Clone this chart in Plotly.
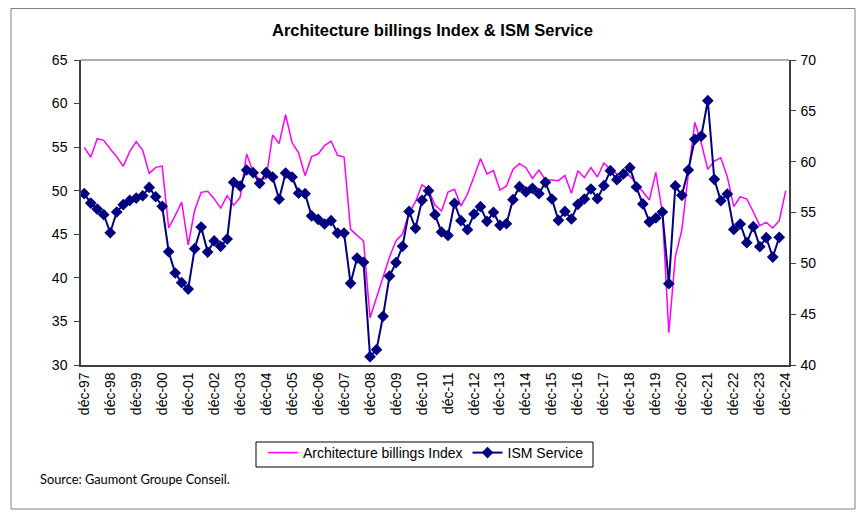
import plotly.graph_objects as go

years = list(range(1997, 2025))
months = ["mars", "juin", "sept", "déc"]
categories = ["déc-97"] + [f"{m}-{str(y)[2:]}" for y in years[1:] for m in months]
tick_labels = [c for c in categories if c.startswith("déc")]

abi = [54.98, 53.83, 55.97, 55.78, 54.79, 53.91, 52.80, 54.48, 55.63, 54.63,
       51.99, 52.68, 52.83, 45.72, 47.14, 48.70, 43.77, 47.75, 49.81, 49.93,
       49.09, 48.01, 49.43, 48.32, 49.24, 54.21, 52.15, 51.23, 51.42, 56.39,
       55.40, 58.72, 55.51, 54.35, 51.73, 53.91, 54.21, 55.17, 55.70, 54.06,
       53.87, 45.57, 44.88, 44.23, 35.43, 37.84, 40.25, 42.39, 44.27, 45.03,
       47.40, 48.74, 50.69, 50.08, 48.36, 47.67, 49.85, 50.16, 48.24, 49.62,
       51.61, 53.68, 51.92, 52.30, 50.08, 50.54, 52.45, 53.10, 52.64, 51.42,
       52.38, 51.23, 51.23, 51.15, 51.76, 49.70, 52.30, 51.50, 52.64, 51.57,
       53.18, 52.45, 51.92, 51.92, 51.69, 50.85, 49.89, 48.93, 52.11, 47.56,
       33.71, 42.43, 45.49, 51.90, 57.85, 55.44, 52.45, 53.41, 53.79, 51.61,
       48.17, 49.31, 49.05, 47.59, 45.99, 46.37, 45.72, 46.56, 50.00]

ism = [56.85, 55.93, 55.34, 54.79, 53.01, 55.05, 55.77, 56.19, 56.42, 56.65,
       57.47, 56.55, 55.61, 51.14, 49.05, 48.10, 47.47, 51.44, 53.57, 51.11,
       52.20, 51.67, 52.39, 57.97, 57.60, 59.18, 58.92, 57.87, 58.92, 58.49,
       56.31, 58.88, 58.49, 56.90, 56.85, 54.66, 54.33, 53.87, 54.20, 52.98,
       52.98, 48.03, 50.52, 50.10, 40.82, 41.51, 44.79, 48.75, 50.07, 51.67,
       55.11, 53.44, 56.20, 57.15, 54.79, 53.08, 52.75, 55.90, 54.20, 53.31,
       54.85, 55.57, 54.13, 55.02, 53.74, 53.90, 56.26, 57.54, 57.02, 57.38,
       56.85, 57.97, 56.33, 54.23, 55.11, 54.36, 55.80, 56.33, 57.31, 56.36,
       57.64, 59.11, 58.23, 58.79, 59.41, 57.51, 55.84, 54.07, 54.46, 55.05,
       48.00, 57.61, 56.69, 59.18, 62.20, 62.52, 66.00, 58.26, 56.16, 56.82,
       53.34, 53.87, 52.03, 53.61, 51.64, 52.52, 50.62, 52.56]

FONT = "Liberation Sans, Arial, sans-serif"

fig = go.Figure()
fig.add_trace(go.Scatter(
    x=categories, y=abi, name="Architecture billings Index", mode="lines",
    line=dict(color="#FF00FF", width=1.5), yaxis="y"))
fig.add_trace(go.Scatter(
    x=categories[:len(ism)], y=ism, name="ISM Service", mode="lines+markers",
    line=dict(color="#000080", width=2),
    marker=dict(symbol="diamond", size=9, color="#000080"), yaxis="y2"))

# page body has an 8px margin; figure is sized so the plot lands where intended
OFF = 8
W, H = 856, 507
PL, PR, PT, PB = 81, 789, 60, 365          # plot area in page pixels
L, T = PL - OFF, PT - OFF
R, B = W - (PR - OFF), H - (PB - OFF)
pw, ph = PR - PL, PB - PT

def px(xp):
    return (xp - PL) / pw

def py(yp):
    return (PB - yp) / ph

fig.update_layout(
    width=W, height=H, autosize=False,
    margin=dict(l=L, r=R, t=T, b=B, pad=0),
    paper_bgcolor="white", plot_bgcolor="white",
    font=dict(family=FONT, size=14, color="black"),
    title=dict(text="<b>Architecture billings Index & ISM Service</b>",
               x=(432.5 - OFF) / W, xref="container", xanchor="center",
               y=1 - (30 - OFF) / H, yref="container", yanchor="middle",
               font=dict(family=FONT, size=16.5, color="black")),
    xaxis=dict(type="category", categoryorder="array", categoryarray=categories,
               range=[-0.5, len(categories) - 0.5],
               tickmode="array", tickvals=tick_labels, ticktext=tick_labels,
               tickangle=-90, ticks="", showgrid=False, zeroline=False,
               showline=True, linecolor="#404040", linewidth=1.5,
               tickfont=dict(family=FONT, size=14)),
    yaxis=dict(range=[30, 65], dtick=5, tick0=30, ticks="outside", ticklen=5,
               tickcolor="#404040", showgrid=False, zeroline=False,
               showline=True, linecolor="#404040", linewidth=1.5,
               ticklabelstandoff=4,
               tickfont=dict(family=FONT, size=14)),
    yaxis2=dict(range=[40, 70], dtick=5, tick0=40, ticks="outside", ticklen=5,
                tickcolor="#404040", showgrid=False, zeroline=False,
                overlaying="y", side="right",
                showline=True, linecolor="#404040", linewidth=1.5,
                ticklabelstandoff=2,
                tickfont=dict(family=FONT, size=14)),
    showlegend=True,
    legend=dict(orientation="h", x=px(263), y=py(437), xanchor="left", yanchor="top",
                borderwidth=0, bgcolor="rgba(0,0,0,0)",
                font=dict(family=FONT, size=14),
                itemwidth=30, tracegroupgap=0),
    shapes=[
        dict(type="line", xref="paper", yref="paper", x0=0, x1=1, y0=1, y1=1,
             line=dict(color="#909090", width=1.5)),
        dict(type="rect", xref="paper", yref="paper",
             x0=px(11), x1=px(855), y0=py(509), y1=py(8.5),
             line=dict(color="#808080", width=1), layer="below"),
        dict(type="rect", xref="paper", yref="paper",
             x0=px(256), x1=px(593), y0=py(467), y1=py(442),
             line=dict(color="black", width=1), layer="below"),
    ],
    annotations=[
        dict(text="Source: Gaumont Groupe Conseil.", xref="paper", yref="paper",
             x=px(38), y=py(479), xanchor="left", yanchor="middle", showarrow=False,
             font=dict(family="Lato, Open Sans, sans-serif", size=12.8, color="black")),
    ],
)

fig.write_html("out.html")
